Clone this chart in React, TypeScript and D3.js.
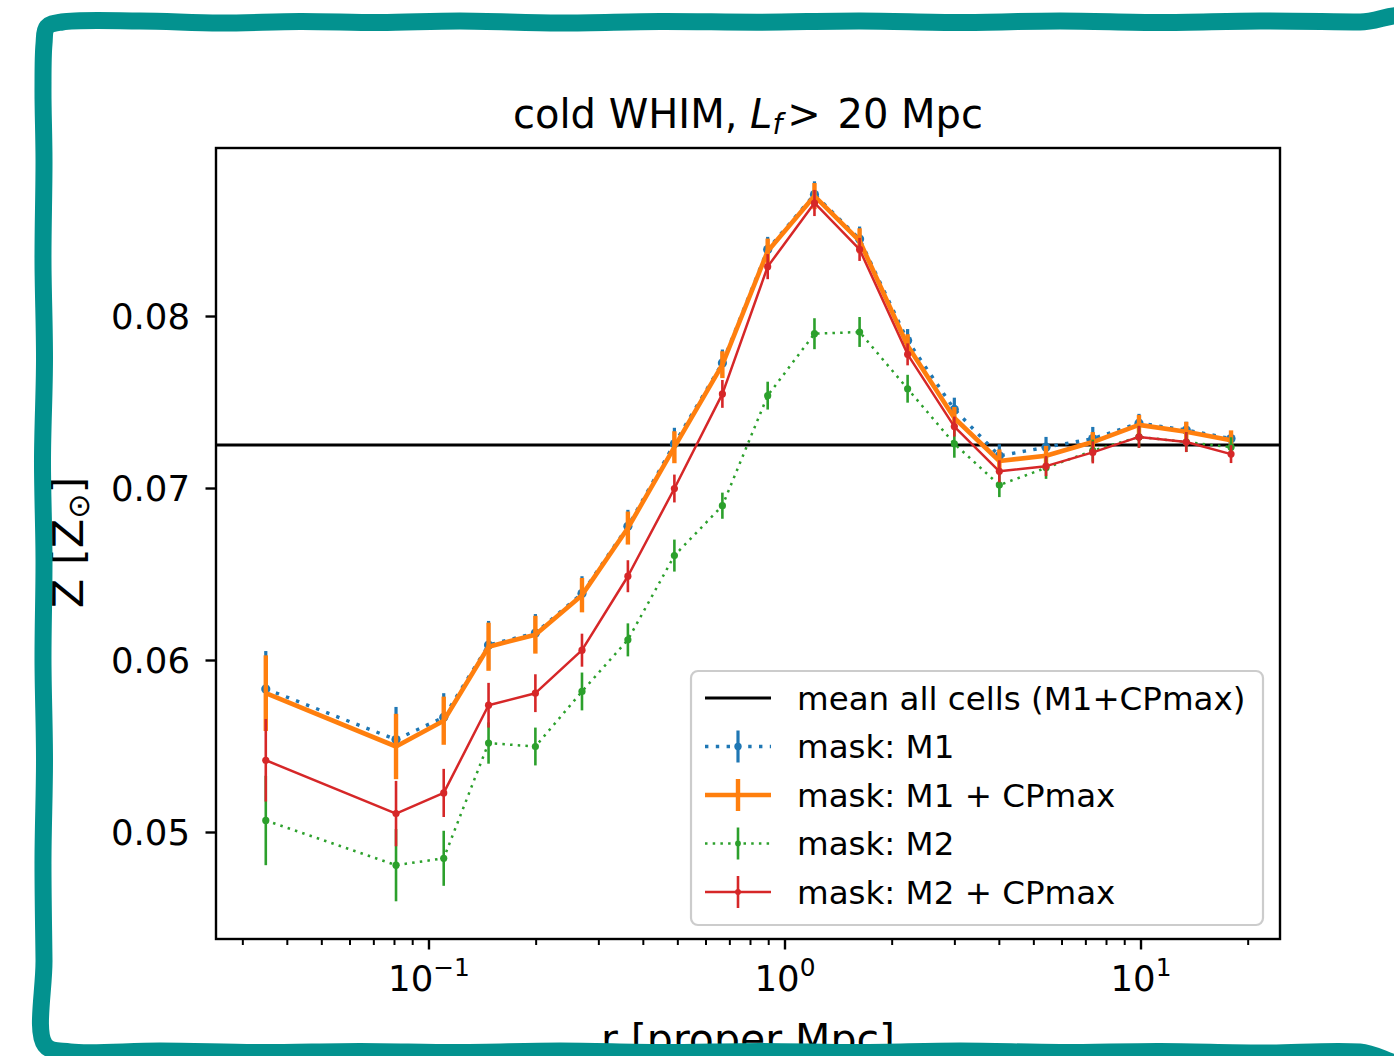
import React from 'react';
import * as d3 from 'd3';

// ---------------- data ----------------
const radius = [0.0348, 0.0808, 0.110, 0.147, 0.199, 0.269, 0.362, 0.489, 0.667, 0.894, 1.21, 1.62, 2.21, 2.99, 4.00, 5.41, 7.32, 9.87, 13.4, 17.9];

const zMaskM1 = [0.05835, 0.0554, 0.0567, 0.0609, 0.0616, 0.0639, 0.0678, 0.0726, 0.0773, 0.0839, 0.0871, 0.0845, 0.0786, 0.0746, 0.0719, 0.0724, 0.0729, 0.0738, 0.0734, 0.0729];
const errMaskM1 = [0.0022, 0.0019, 0.0014, 0.0014, 0.0011, 0.0010, 0.00096, 0.00093, 0.00078, 0.00073, 0.00076, 0.00073, 0.00067, 0.00068, 0.00067, 0.00060, 0.00068, 0.00054, 0.00048, 0.00040];

const zMaskM1CP = [0.0581, 0.0550, 0.0565, 0.0608, 0.0615, 0.0638, 0.0677, 0.0724, 0.0772, 0.0838, 0.0870, 0.0844, 0.0783, 0.0741, 0.0716, 0.0719, 0.0727, 0.0737, 0.0733, 0.0728];
const errMaskM1CP = [0.0022, 0.0019, 0.0014, 0.0014, 0.0011, 0.0010, 0.00096, 0.00093, 0.00078, 0.00073, 0.00076, 0.00073, 0.00067, 0.00064, 0.00067, 0.00058, 0.00058, 0.00058, 0.00058, 0.00058];

const zMaskM2 = [0.0507, 0.0481, 0.0485, 0.0552, 0.0550, 0.0582, 0.0612, 0.0661, 0.0690, 0.0754, 0.0790, 0.0791, 0.0758, 0.0726, 0.0702, 0.0712, 0.0722, 0.0730, 0.0727, 0.0724];
const errMaskM2 = [0.0026, 0.0021, 0.0016, 0.0012, 0.0011, 0.0011, 0.00096, 0.00093, 0.00076, 0.00081, 0.0009, 0.00087, 0.00081, 0.00081, 0.0007, 0.00064, 0.00064, 0.00064, 0.00058, 0.00058];

const zMaskM2CP = [0.0542, 0.0511, 0.0523, 0.0574, 0.0581, 0.0606, 0.0649, 0.0700, 0.0755, 0.0829, 0.0866, 0.0839, 0.0778, 0.0736, 0.0710, 0.0713, 0.0721, 0.0730, 0.0727, 0.0720];
const errMaskM2CP = [0.0024, 0.0019, 0.0014, 0.0013, 0.0011, 0.00096, 0.00093, 0.00081, 0.00081, 0.00073, 0.00076, 0.00067, 0.00064, 0.00058, 0.00064, 0.00058, 0.00064, 0.00064, 0.00058, 0.00052];

const meanAllCells = 0.07253;

const yTickValues = [0.05, 0.06, 0.07, 0.08];
const yTickLabels = ['0.05', '0.06', '0.07', '0.08'];
const xMajorTicks = [0.1, 1, 10];
const xMajorExponents = ['\u22121', '0', '1'];

const legendLabels = [
  'mean all cells (M1+CPmax)',
  'mask: M1',
  'mask: M1 + CPmax',
  'mask: M2',
  'mask: M2 + CPmax',
];

const FONT = '"DejaVu Sans", sans-serif';

type Series = {
  values: number[];
  errors: number[];
  color: string;
  lw: number;
  dash?: string;
  elw: number;
  markerR: number;
};

export default function App() {
  const W = 1394;
  const H = 1056;
  const left = 216, right = 1280, top = 148, bottom = 939;

  const x = d3.scaleLog().domain([0.02522, 24.57]).range([left, right]);
  const y = d3.scaleLinear().domain([0.043808, 0.089797]).range([bottom, top]);

  const series: Series[] = [
    { values: zMaskM1, errors: errMaskM1, color: '#1f77b4', lw: 3.4, dash: '3.4 7.4', elw: 3.2, markerR: 4.6 },
    { values: zMaskM1CP, errors: errMaskM1CP, color: '#ff7f0e', lw: 4.6, elw: 4.4, markerR: 0 },
    { values: zMaskM2, errors: errMaskM2, color: '#2ca02c', lw: 2.5, dash: '2.5 5.2', elw: 2.6, markerR: 3.6 },
    { values: zMaskM2CP, errors: errMaskM2CP, color: '#d62728', lw: 2.5, elw: 2.6, markerR: 3.6 },
  ];

  const allTicks = x.ticks();
  const isMajor = (t: number) => Math.abs(Math.log10(t) - Math.round(Math.log10(t))) < 1e-9;
  const minorTicks = allTicks.filter((t) => !isMajor(t));

  const lineGen = (vals: number[]) =>
    d3.line<number>()
      .x((_, i) => x(radius[i]))
      .y((d) => y(d))(vals) as string;

  // decorative hand-drawn frame (fixed points)
  const framePts: [number, number][] = [
    [44, 44], [47, 27], [62, 22], [140, 21], [220, 23], [300, 21.5], [380, 22.5], [460, 21],
    [560, 23], [660, 21.5], [760, 22.2], [860, 21], [960, 22.5], [1060, 21], [1160, 22.5],
    [1260, 21], [1360, 22], [1415, 22], [1415, 1060], [1360, 1052], [1260, 1053], [1160, 1051.5],
    [1060, 1052.5], [960, 1051], [860, 1052.5], [760, 1051.5], [660, 1052.5], [560, 1051],
    [460, 1052.5], [360, 1051.5], [260, 1052.5], [160, 1051], [70, 1052], [45, 1045],
    [44, 960], [43, 860], [44.5, 760], [43, 660], [44, 560], [42.5, 460], [44.5, 360],
    [43, 260], [44, 160], [43, 90],
  ];
  const framePath = d3.line().curve(d3.curveCatmullRomClosed.alpha(0.5))(framePts) as string;

  const tickFs = 35.5;
  const labelFs = 43;
  const legendFs = 32.5;
  const titleFs = 40;

  const legendX = 691, legendY = 671, legendW = 572, legendH = 254;
  const rowY = [698, 746.5, 795, 843.5, 892];
  const hx0 = 705, hx1 = 771, hxc = 738, textX = 797;

  return (
    <svg width={W} height={H} style={{ position: 'absolute', left: 0, top: 0, display: 'block', background: '#ffffff' }} fontFamily={FONT}>
      <rect x={0} y={0} width={W} height={H} fill="#ffffff" />

      {/* mean line */}
      <line x1={left} x2={right} y1={y(meanAllCells)} y2={y(meanAllCells)} stroke="#000" strokeWidth={3} />

      <defs>
        <clipPath id="plotclip">
          <rect x={left} y={top} width={right - left} height={bottom - top} />
        </clipPath>
      </defs>
      <g clipPath="url(#plotclip)">
        {series.map((s, si) => (
          <g key={si}>
            <path d={lineGen(s.values)} fill="none" stroke={s.color} strokeWidth={s.lw}
              strokeDasharray={s.dash} strokeLinejoin="round" />
            {s.values.map((v, i) => (
              <line key={'e' + i} x1={x(radius[i])} x2={x(radius[i])}
                y1={y(v - s.errors[i])} y2={y(v + s.errors[i])}
                stroke={s.color} strokeWidth={s.elw} />
            ))}
            {s.markerR > 0 && s.values.map((v, i) => (
              <circle key={'m' + i} cx={x(radius[i])} cy={y(v)} r={s.markerR} fill={s.color} />
            ))}
          </g>
        ))}
      </g>

      {/* axes frame */}
      <rect x={left} y={top} width={right - left} height={bottom - top} fill="none" stroke="#000" strokeWidth={2.4} />

      {/* y ticks */}
      {yTickValues.map((t, i) => (
        <g key={'yt' + i}>
          <line x1={left - 10.5} x2={left} y1={y(t)} y2={y(t)} stroke="#000" strokeWidth={2.4} />
          <text x={left - 26} y={y(t) + 12.8} fontSize={tickFs} textAnchor="end" fill="#000">{yTickLabels[i]}</text>
        </g>
      ))}

      {/* x ticks */}
      {minorTicks.map((t, i) => (
        <line key={'xm' + i} x1={x(t)} x2={x(t)} y1={bottom} y2={bottom + 6} stroke="#000" strokeWidth={2} />
      ))}
      {xMajorTicks.map((t, i) => (
        <g key={'xt' + i}>
          <line x1={x(t)} x2={x(t)} y1={bottom} y2={bottom + 10.5} stroke="#000" strokeWidth={2.4} />
          <text x={x(t)} y={991} fontSize={tickFs} textAnchor="middle" fill="#000">
            10<tspan fontSize={tickFs * 0.7} dy={-15}>{xMajorExponents[i]}</tspan>
          </text>
        </g>
      ))}

      {/* title */}
      <text x={(left + right) / 2} y={127.5} fontSize={titleFs} textAnchor="middle" fill="#000">
        cold WHIM, <tspan fontStyle="italic">L</tspan>
        <tspan fontStyle="italic" fontSize={titleFs * 0.7} dy={6}>f</tspan>
        <tspan dy={-6} dx={5}>&gt;</tspan>
        <tspan dx={4}> 20 Mpc</tspan>
      </text>

      {/* y label */}
      <text transform={`translate(83, ${(top + bottom) / 2 - 1}) rotate(-90)`} fontSize={labelFs} textAnchor="middle" fill="#000">
        Z [Z<tspan fontSize={labelFs * 0.7} dy={6}>{'\u2299'}</tspan><tspan dy={-6}>]</tspan>
      </text>

      {/* x label */}
      <text x={(left + right) / 2} y={1053} fontSize={41} textAnchor="middle" fill="#000">r [proper Mpc]</text>

      {/* legend */}
      <rect x={legendX} y={legendY} width={legendW} height={legendH} rx={7} fill="#ffffff" fillOpacity={0.8}
        stroke="#cccccc" strokeWidth={2.2} />
      <line x1={hx0} x2={hx1} y1={rowY[0]} y2={rowY[0]} stroke="#000" strokeWidth={3} />
      {series.map((s, si) => (
        <g key={'lg' + si}>
          <line x1={hx0} x2={hx1} y1={rowY[si + 1]} y2={rowY[si + 1]} stroke={s.color} strokeWidth={s.lw}
            strokeDasharray={s.dash} />
          <line x1={hxc} x2={hxc} y1={rowY[si + 1] - 16} y2={rowY[si + 1] + 16} stroke={s.color} strokeWidth={s.elw} />
          {s.markerR > 0 && <circle cx={hxc} cy={rowY[si + 1]} r={s.markerR * 0.8} fill={s.color} />}
        </g>
      ))}
      {legendLabels.map((lab, i) => (
        <text key={'lt' + i} x={textX} y={rowY[i] + 11.8} fontSize={legendFs} fill="#000">{lab}</text>
      ))}

      {/* decorative frame */}
      <path d={framePath} fill="none" stroke="#03928f" strokeWidth={17} strokeLinejoin="round" />
    </svg>
  );
}
